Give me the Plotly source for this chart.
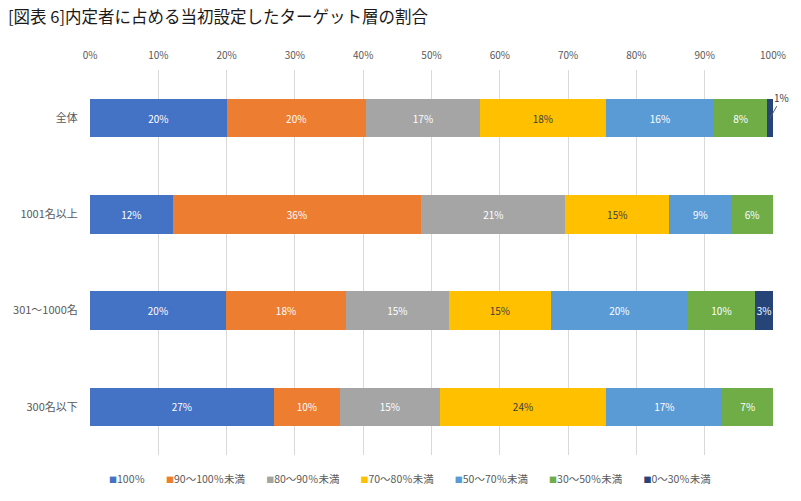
import plotly.graph_objects as go

categories = ["全体", "1001名以上", "301～1000名", "300名以下"]
series_names = ["100％", "90～100％未満", "80～90％未満", "70～80％未満",
                "50～70％未満", "30～50％未満", "0～30％未満"]
colors = ["#4472C4", "#ED7D31", "#A5A5A5", "#FFC000", "#5B9BD5", "#70AD47", "#264478"]

s100 = [20.0, 12.1, 19.9, 26.9]
s90_100 = [20.4, 36.4, 17.6, 9.7]
s80_90 = [16.7, 21.1, 15.0, 14.6]
s70_80 = [18.4, 15.2, 15.0, 24.4]
s50_70 = [15.9, 9.1, 20.0, 17.0]
s30_50 = [7.7, 6.1, 9.9, 7.4]
s0_30 = [0.9, 0.0, 2.6, 0.0]
series_values = [s100, s90_100, s80_90, s70_80, s50_70, s30_50, s0_30]

x_ticks = list(range(0, 101, 10))

FONT = "Noto Sans CJK JP"
fig = go.Figure()
for name, vals, col in zip(series_names, series_values, colors):
    texts = []
    for c, v in zip(categories, vals):
        if v <= 0 or (name == "0～30％未満" and c == "全体"):
            texts.append("")
        else:
            texts.append(f"{round(v)}%")
    tcolor = "#404040" if col == "#FFC000" else "white"
    fig.add_trace(go.Bar(
        y=categories, x=vals, name=name, orientation="h",
        marker=dict(color=col, line=dict(width=0)),
        text=texts, textposition="inside", insidetextanchor="middle",
        textangle=0, cliponaxis=False, constraintext="none",
        textfont=dict(family=FONT, size=10, color=tcolor),
        showlegend=False,
    ))

# outside label for the small segment
fig.add_annotation(
    x=sum(v[0] for v in series_values[:-1]) + s0_30[0] / 2, y=categories[0],
    xref="x", yref="y", text=f"{round(s0_30[0])}%",
    showarrow=True, arrowhead=0, arrowwidth=1, arrowcolor="#595959",
    ax=12, ay=-21, font=dict(family=FONT, size=10, color="#404040"),
)

# legend drawn as one text line (small colour markers + labels)
legend_text = "　　".join(
    f"<span style='color:{c};font-size:8px'>■</span>{n}"
    for n, c in zip(series_names, colors)
)
fig.add_annotation(
    x=0.4685, y=-0.06, xref="paper", yref="paper",
    xanchor="center", yanchor="middle", showarrow=False,
    text=legend_text, font=dict(family=FONT, size=10.5, color="#595959"),
)

fig.update_layout(
    barmode="stack", bargap=0.6,
    width=801, height=501,
    margin=dict(l=90, r=28, t=70, b=46),
    paper_bgcolor="white", plot_bgcolor="white",
    font=dict(family=FONT, color="#595959", size=10),
    title=dict(text="[図表 6]内定者に占める当初設定したターゲット層の割合",
               x=0.01, xref="container", xanchor="left",
               y=0.965, yref="container", yanchor="middle",
               font=dict(family=FONT, size=16.5, color="#1a1a1a")),
    xaxis=dict(side="top", range=[0, 100], tickvals=x_ticks,
               ticktext=[f"{t}%" for t in x_ticks],
               showgrid=True, gridcolor="#D9D9D9", gridwidth=1,
               zeroline=False, showline=False,
               ticks="outside", ticklen=6, tickcolor="rgba(0,0,0,0)",
               tickfont=dict(family=FONT, size=10, color="#595959")),
    yaxis=dict(categoryorder="array", categoryarray=categories,
               autorange="reversed", showgrid=False, zeroline=False,
               ticks="outside", ticklen=9, tickcolor="rgba(0,0,0,0)",
               tickfont=dict(family=FONT, size=11, color="#595959")),
    showlegend=False,
)

fig.write_html("out.html")
